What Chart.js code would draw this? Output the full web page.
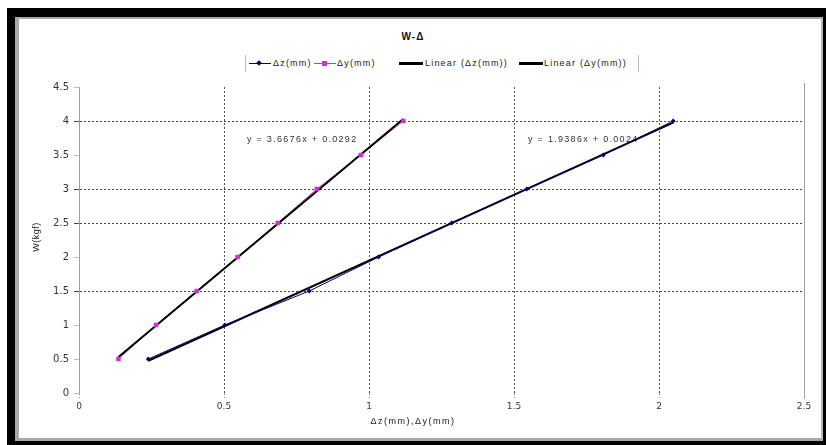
<!DOCTYPE html>
<html><head><meta charset="utf-8">
<script src="https://cdn.jsdelivr.net/npm/chart.js@4"></script>
<style>
html,body{margin:0;padding:0;background:#fff;width:826px;height:445px;overflow:hidden;font-family:"Liberation Sans",Arial,sans-serif;}
#frame{position:absolute;left:7px;top:8px;width:819px;height:437px;background:#000;}
#inner{position:absolute;left:15px;top:17px;width:802px;height:419px;background:#fff;border-left:4px solid #a9a9a9;border-top:2px solid #a9a9a9;border-right:2px solid #b5b5b5;border-bottom:3px solid #a9a9a9;}
#wrap{position:absolute;left:0;top:0;width:826px;height:445px;}
#title{position:absolute;left:0;top:31px;width:826px;text-align:center;font-weight:bold;font-size:10px;line-height:12px;letter-spacing:1px;color:#111;}
#legend{position:absolute;left:245px;top:55px;width:392px;height:17px;border-left:1px solid #bbb;border-right:1px solid #bbb;font-size:9px;letter-spacing:1.2px;color:#222;}
#legend .ln{position:absolute;top:8px;height:1px;}
#legend .tx{position:absolute;top:3px;line-height:11px;white-space:nowrap;}
#legend .mk{position:absolute;}
</style></head>
<body>
<div id="frame"></div>
<div id="inner"></div>
<div id="title">W-Δ</div>
<div id="legend">
  <div class="ln" style="left:3px;width:22px;background:#000066"></div>
  <div class="mk" style="left:11px;top:6px;width:4px;height:4px;background:#000066;transform:rotate(45deg)"></div>
  <div class="tx" style="left:27px">Δz(mm)</div>
  <div class="ln" style="left:68px;width:22px;background:#cc33cc"></div>
  <div class="mk" style="left:76px;top:6px;width:5px;height:5px;background:#cc33cc"></div>
  <div class="tx" style="left:91px">Δy(mm)</div>
  <div class="ln" style="left:153px;width:24px;height:3px;top:7px;background:#000"></div>
  <div class="tx" style="left:179px">Linear (Δz(mm))</div>
  <div class="ln" style="left:273px;width:24px;height:3px;top:7px;background:#000"></div>
  <div class="tx" style="left:298px">Linear (Δy(mm))</div>
</div>
<div id="wrap"><canvas id="c" width="826" height="445"></canvas></div>
<script>
// ---- data ----
const loadW = [0.5, 1, 1.5, 2, 2.5, 3, 3.5, 4];                 // W (kgf)
const deltaZ = [0.239, 0.503, 0.794, 1.033, 1.285, 1.544, 1.808, 2.049]; // Δz (mm)
const deltaY = [0.136, 0.266, 0.406, 0.547, 0.685, 0.820, 0.972, 1.118]; // Δy (mm)
const xTickValues = [0, 0.5, 1, 1.5, 2, 2.5];
const yTickValues = [0, 0.5, 1, 1.5, 2, 2.5, 3, 3.5, 4, 4.5];
const shownHGrid = [1.5, 2.5, 3, 4];
const eqTexts = ['y = 3.6676x + 0.0292', 'y = 1.9386x + 0.0024'];
const eqAnchorX = [0.579, 1.548];
const eqAnchorY = [3.735, 3.735];

function pts(xs, ys){ return xs.map((x,i)=>({x:x, y:ys[i]})); }
function linFit(xs, ys){
  const n = xs.length;
  const mx = xs.reduce((a,b)=>a+b,0)/n, my = ys.reduce((a,b)=>a+b,0)/n;
  let sxy=0, sxx=0;
  for(let i=0;i<n;i++){ sxy += (xs[i]-mx)*(ys[i]-my); sxx += (xs[i]-mx)*(xs[i]-mx); }
  const m = sxy/sxx, b = my - m*mx;
  const x0 = Math.min(...xs), x1 = Math.max(...xs);
  return [{x:x0, y:m*x0+b}, {x:x1, y:m*x1+b}];
}

const NAVY = '#000066', MAG = '#cc33cc';

const extras = {
  id:'extras',
  beforeDatasetsDraw(chart){
    const ctx = chart.ctx, xs = chart.scales.x, ys = chart.scales.y;
    ctx.save();
    ctx.font = '9px "Liberation Sans", Arial, sans-serif';
    ctx.letterSpacing = '1.3px';
    ctx.fillStyle = '#333';
    ctx.textBaseline = 'middle';
    ctx.textAlign = 'left';
    eqTexts.forEach((t,i)=>{
      ctx.fillText(t, xs.getPixelForValue(eqAnchorX[i]), ys.getPixelForValue(eqAnchorY[i]));
    });
    ctx.restore();
  },
  afterDraw(chart){
    const ctx = chart.ctx, a = chart.chartArea;
    ctx.save();
    ctx.strokeStyle = '#a0a0a0'; ctx.lineWidth = 1;
    ctx.beginPath(); ctx.moveTo(a.right+0.5, a.top-4); ctx.lineTo(a.right+0.5, a.bottom+6); ctx.stroke();
    ctx.font = '9px "Liberation Sans", Arial, sans-serif';
    ctx.letterSpacing = '1.5px';
    ctx.fillStyle = '#222';
    ctx.textAlign = 'center'; ctx.textBaseline = 'middle';
    ctx.fillText('Δz(mm),Δy(mm)', chart.width/2, a.bottom + 29);
    ctx.translate(37, (a.top + a.bottom)/2 - 3);
    ctx.rotate(-Math.PI/2);
    ctx.letterSpacing = '0.5px';
    ctx.fillText('W(kgf)', 0, 0);
    ctx.restore();
  }
};

new Chart(document.getElementById('c'), {
  type:'scatter',
  data:{ datasets:[
    {label:'Δy line', data:pts(deltaY, loadW), showLine:true, borderColor:MAG, borderWidth:1, pointRadius:0, order:3},
    {label:'Δz line', data:pts(deltaZ, loadW), showLine:true, borderColor:NAVY, borderWidth:1, pointRadius:0, order:1},
    {label:'Linear (Δz(mm))', data:linFit(deltaZ, loadW), showLine:true, borderColor:'#000', borderWidth:2, pointRadius:0, order:2},
    {label:'Linear (Δy(mm))', data:linFit(deltaY, loadW), showLine:true, borderColor:'#000', borderWidth:2, pointRadius:0, order:2},
    {label:'Δz(mm)', data:pts(deltaZ, loadW), showLine:false, pointStyle:'rectRot', pointRadius:2.5, backgroundColor:NAVY, borderColor:NAVY, borderWidth:0, order:0},
    {label:'Δy(mm)', data:pts(deltaY, loadW), showLine:false, pointStyle:'rect', pointRadius:3.2, backgroundColor:MAG, borderColor:MAG, borderWidth:0, order:0}
  ]},
  options:{
    responsive:false, animation:false, devicePixelRatio:1,
    layout:{padding:{top:87, right:22, bottom:0, left:0}},
    plugins:{legend:{display:false}, tooltip:{enabled:false}},
    scales:{
      x:{
        type:'linear', min:0, max:2.5,
        afterBuildTicks(s){ s.ticks = xTickValues.map(v=>({value:v})); },
        afterFit(s){ s.height = 52; },
        border:{display:false, dash:[2,2]},
        grid:{
          color:(c)=> (c.tick && (c.tick.value===0 || c.tick.value===2.5)) ? 'rgba(0,0,0,0)' : '#555',
          lineWidth:1, drawTicks:true, tickLength:5, tickColor:'#999', tickBorderDash:[2,2]
        },
        ticks:{ color:'#333', padding:3, font:{family:'"DejaVu Sans", sans-serif', size:9}, maxRotation:0,
          callback:(v)=> String(v) }
      },
      y:{
        type:'linear', min:0, max:4.5,
        afterBuildTicks(s){ s.ticks = yTickValues.map(v=>({value:v})); },
        afterFit(s){ s.width = 79; },
        border:{display:true, color:'#a0a0a0', width:1, dash:[2,2]},
        grid:{
          color:(c)=> (c.tick && shownHGrid.includes(c.tick.value)) ? '#444' : 'rgba(0,0,0,0)',
          lineWidth:1, drawTicks:true, tickLength:5, tickColor:(c)=> (c.tick && shownHGrid.includes(c.tick.value)) ? '#444' : '#bbb'
        },
        ticks:{ color:'#333', padding:5, font:{family:'"DejaVu Sans", sans-serif', size:10},
          callback:(v)=> String(v) }
      }
    }
  },
  plugins:[extras]
});
</script>
</body></html>
